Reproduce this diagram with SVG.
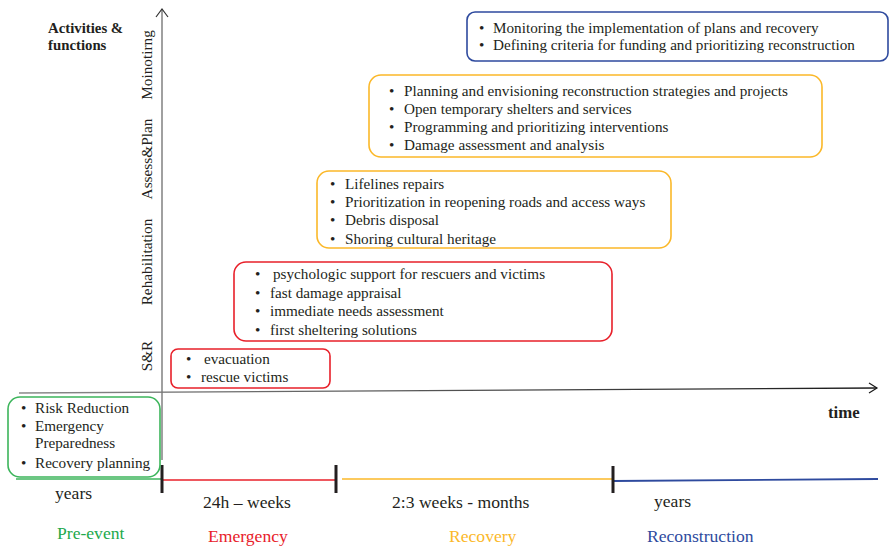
<svg xmlns="http://www.w3.org/2000/svg" width="889" height="547" viewBox="0 0 889 547">
<defs>
<style>
text{font-family:"Liberation Serif","Times New Roman",serif;fill:#231f20;}
.t{font-size:15.2px;}
.ax{font-size:15.3px;}
.b{font-weight:bold;}
.tl{font-size:17.6px;}
.box{fill:none;stroke-width:1.6;}
.tick{stroke:#231f20;stroke-width:3;}
</style>
<linearGradient id="hg" x1="0" y1="0" x2="1" y2="0">
<stop offset="0" stop-color="#8a8a8a"/>
<stop offset="1" stop-color="#1a1a1a"/>
</linearGradient>
</defs>
<rect width="889" height="547" fill="#fff"/>

<g id="connectors">
<line x1="162" y1="460" x2="162" y2="9" stroke="#808080" stroke-width="1.5"/>
<polyline points="156,17 162,9 168,17" fill="none" stroke="#333" stroke-width="1.2"/>
<line x1="19" y1="393" x2="877" y2="388" stroke="url(#hg)" stroke-width="1.4"/>
<polyline points="869,383 877,388 869,393" fill="none" stroke="#1a1a1a" stroke-width="1.2"/>
<line x1="16" y1="479" x2="162" y2="479" stroke="#3cb55b" stroke-width="1.5"/>
<line x1="162" y1="480" x2="336" y2="480" stroke="#e8202a" stroke-width="1.5"/>
<line x1="342" y1="479" x2="613" y2="479" stroke="#fbb829" stroke-width="1.5"/>
<line x1="613" y1="481" x2="878" y2="479" stroke="#2e4a9e" stroke-width="1.8"/>
<line class="tick" x1="162" y1="465" x2="162" y2="493"/>
<line class="tick" x1="336" y1="465" x2="336" y2="493"/>
<line class="tick" x1="613" y1="466" x2="613" y2="493"/>
</g>

<g id="axis-labels">
<text class="b" x="48" y="33" font-size="14.8">Activities &amp;</text>
<text class="b" x="48" y="50" font-size="14.8">functions</text>
<text class="ax" transform="translate(152,65) rotate(-90)" text-anchor="middle">Moinotirng</text>
<text class="ax" transform="translate(152,159) rotate(-90)" text-anchor="middle">Assess&amp;Plan</text>
<text class="ax" transform="translate(152,262) rotate(-90)" text-anchor="middle">Rehabilitation</text>
<text class="ax" transform="translate(152,356) rotate(-90)" text-anchor="middle">S&amp;R</text>
<text class="b" x="828" y="418" font-size="16.8">time</text>
</g>

<g id="box-monitoring">
<rect class="box" x="467" y="12" width="421" height="49" rx="8" stroke="#2e4a9e"/>
<text class="t"><tspan x="479" y="33">•</tspan><tspan x="493" y="33">Monitoring the implementation of plans and recovery</tspan></text>
<text class="t"><tspan x="479" y="50">•</tspan><tspan x="493" y="50">Defining criteria for funding and prioritizing reconstruction</tspan></text>
</g>

<g id="box-assess">
<rect class="box" x="369" y="75" width="453" height="82" rx="12" stroke="#fbb829"/>
<text class="t"><tspan x="389" y="96">•</tspan><tspan x="404" y="96">Planning and envisioning reconstruction strategies and projects</tspan></text>
<text class="t"><tspan x="389" y="114">•</tspan><tspan x="404" y="114">Open temporary shelters and services</tspan></text>
<text class="t"><tspan x="389" y="132">•</tspan><tspan x="404" y="132">Programming and prioritizing interventions</tspan></text>
<text class="t"><tspan x="389" y="150">•</tspan><tspan x="404" y="150">Damage assessment and analysis</tspan></text>
</g>

<g id="box-rehab">
<rect class="box" x="317" y="171" width="354" height="77" rx="12" stroke="#fbb829"/>
<text class="t"><tspan x="330" y="189">•</tspan><tspan x="345" y="189">Lifelines repairs</tspan></text>
<text class="t"><tspan x="330" y="207">•</tspan><tspan x="345" y="207">Prioritization in reopening roads and access ways</tspan></text>
<text class="t"><tspan x="330" y="225">•</tspan><tspan x="345" y="225">Debris disposal</tspan></text>
<text class="t"><tspan x="330" y="244">•</tspan><tspan x="345" y="244">Shoring cultural heritage</tspan></text>
</g>

<g id="box-emergency">
<rect class="box" x="234" y="262" width="378" height="79" rx="12" stroke="#e8202a"/>
<text class="t"><tspan x="255" y="279">•</tspan><tspan x="273" y="279">psychologic support for rescuers and victims</tspan></text>
<text class="t"><tspan x="255" y="298">•</tspan><tspan x="270" y="298">fast damage appraisal</tspan></text>
<text class="t"><tspan x="255" y="316">•</tspan><tspan x="270" y="316">immediate needs assessment</tspan></text>
<text class="t"><tspan x="255" y="335">•</tspan><tspan x="270" y="335">first sheltering solutions</tspan></text>
</g>

<g id="box-sr">
<rect class="box" x="171" y="349" width="159" height="39" rx="7" stroke="#e8202a"/>
<text class="t"><tspan x="186" y="364">•</tspan><tspan x="204" y="364">evacuation</tspan></text>
<text class="t"><tspan x="186" y="382">•</tspan><tspan x="201" y="382">rescue victims</tspan></text>
</g>

<g id="box-preevent">
<rect class="box" x="8" y="397" width="152" height="80" rx="12" stroke="#3cb55b" stroke-width="1.2"/>
<text class="t"><tspan x="21" y="413">•</tspan><tspan x="35" y="413">Risk Reduction</tspan></text>
<text class="t"><tspan x="21" y="431">•</tspan><tspan x="35" y="431">Emergency</tspan></text>
<text class="t"><tspan x="35" y="448">Preparedness</tspan></text>
<text class="t"><tspan x="21" y="468">•</tspan><tspan x="35" y="468">Recovery planning</tspan></text>
</g>

<g id="timeline-labels">
<text class="tl" x="55" y="499">years</text>
<text class="tl" x="203" y="508">24h – weeks</text>
<text class="tl" x="392" y="508">2:3 weeks - months</text>
<text class="tl" x="654" y="507">years</text>
<text class="tl" x="57" y="539" style="fill:#22a94b">Pre-event</text>
<text class="tl" x="208" y="542" style="fill:#e8202a">Emergency</text>
<text class="tl" x="449" y="542" style="fill:#fbb829">Recovery</text>
<text class="tl" x="647" y="542" style="fill:#2e4a9e">Reconstruction</text>
</g>
</svg>
